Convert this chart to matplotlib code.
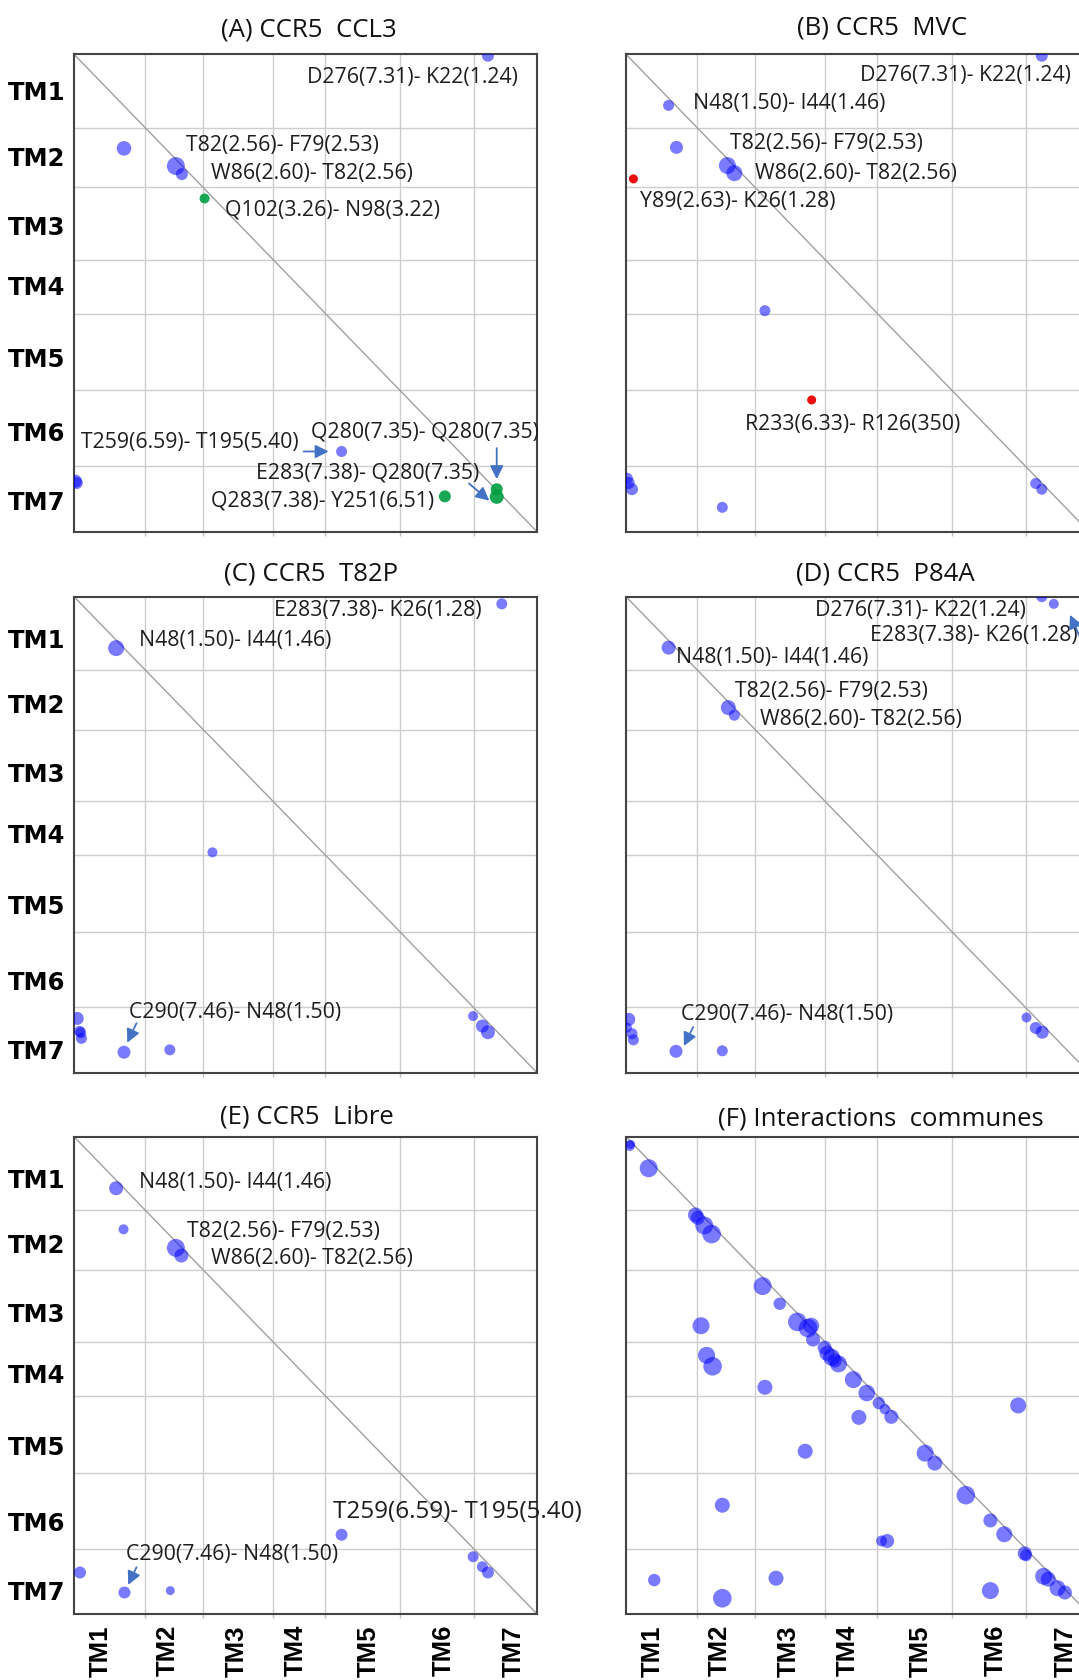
import matplotlib
matplotlib.use("Agg")
import matplotlib.pyplot as plt

plt.rcParams['font.family'] = ['Open Sans', 'DejaVu Sans']

# contact maps are drawn on a 0-100 scale along the receptor sequence
TM_NAMES = ['TM1', 'TM2', 'TM3', 'TM4', 'TM5', 'TM6', 'TM7']
TM_BOUNDS = [15.4, 27.9, 43.0, 54.3, 70.4, 86.3]
TM_CENTRES_X = [5.8, 20.2, 35.2, 47.9, 63.6, 79.9, 94.9]
TM_CENTRES_Y_TOP = [7.5, 21.4, 35.9, 48.5, 63.6, 79.1, 93.5]
TM_CENTRES_Y = [8.8, 22.4, 36.9, 49.7, 64.6, 80.6, 95.1]

# (A) CCR5 CCL3
a_x = [89.4, 10.8, 22.0, 23.3, 28.2, 57.8, 0.3, 0.6, 80.1, 91.3, 91.3]
a_y = [0.3, 19.7, 23.4, 25.1, 30.2, 83.2, 89.4, 89.8, 92.6, 91.1, 92.7]
a_r = [6, 7.3, 9, 6, 5, 5.5, 6.5, 6, 6, 6, 7]
a_kind = ['b', 'b', 'b', 'b', 'g', 'b', 'b', 'b', 'g', 'g', 'g']
a_notes = ["D276(7.31)- K22(1.24)", "T82(2.56)- F79(2.53)", "W86(2.60)- T82(2.56)",
           "Q102(3.26)- N98(3.22)", "T259(6.59)- T195(5.40)", "Q280(7.35)- Q280(7.35)",
           "E283(7.38)- Q280(7.35)", "Q283(7.38)- Y251(6.51)"]
a_note_x = [50.4, 24.1, 29.5, 32.7, 1.6, 51.1, 39.4, 29.5]
a_note_y = [4.9, 19.1, 25.0, 32.6, 81.4, 79.1, 87.8, 93.5]
a_arrows = [(49.6, 83.2, 55.0, 83.2), (91.3, 82.5, 91.3, 89.0), (85.3, 89.9, 89.7, 93.5)]

# (B) CCR5 MVC
b_x = [89.8, 9.2, 10.9, 21.9, 23.4, 1.6, 30.0, 40.1, 0.2, 0.6, 1.3, 20.8, 88.5, 89.8]
b_y = [0.3, 10.7, 19.5, 23.3, 24.9, 26.1, 53.7, 72.4, 88.9, 89.8, 91.1, 94.9, 89.9, 91.1]
b_r = [6, 5.5, 6.5, 8.5, 8, 4.5, 5.5, 4.5, 6, 6, 6, 5.5, 5.5, 5.5]
b_kind = ['b', 'b', 'b', 'b', 'b', 'r', 'b', 'r', 'b', 'b', 'b', 'b', 'b', 'b']
b_notes = ["D276(7.31)- K22(1.24)", "N48(1.50)- I44(1.46)", "T82(2.56)- F79(2.53)",
           "W86(2.60)- T82(2.56)", "Y89(2.63)- K26(1.28)", "R233(6.33)- R126(350)"]
b_note_x = [50.6, 14.5, 22.5, 27.9, 3.0, 25.8]
b_note_y = [4.5, 10.3, 18.7, 24.9, 30.8, 77.6]
b_arrows = []

# (C) CCR5 T82P
c_x = [92.4, 9.1, 29.9, 0.7, 1.2, 1.45, 1.6, 10.8, 20.7, 86.2, 88.2, 89.4]
c_y = [1.5, 10.8, 53.7, 88.6, 91.3, 91.6, 92.8, 95.7, 95.2, 88.1, 90.2, 91.5]
c_r = [5.5, 8, 5, 6.5, 5.5, 5.5, 5.5, 6.5, 5.5, 5, 6.5, 7]
c_kind = ['b'] * 12
c_notes = ["E283(7.38)- K26(1.28)", "N48(1.50)- I44(1.46)", "C290(7.46)- N48(1.50)"]
c_note_x = [43.2, 14.1, 11.8]
c_note_y = [2.9, 9.2, 87.3]
c_arrows = [(13.5, 89.6, 11.5, 93.7)]

# (D) CCR5 P84A
d_x = [89.8, 92.4, 9.2, 22.1, 23.4, 0.6, 0.2, 1.3, 1.6, 10.8, 20.8, 86.5, 88.5, 89.9]
d_y = [0.0, 1.5, 10.7, 23.3, 24.9, 88.8, 90.5, 91.8, 93.1, 95.5, 95.4, 88.4, 90.6, 91.5]
d_r = [5.5, 5, 7, 7.5, 5.5, 6.5, 5, 5.5, 5.5, 6.5, 5.5, 5, 6, 6.5]
d_kind = ['b'] * 14
d_notes = ["D276(7.31)- K22(1.24)", "E283(7.38)- K26(1.28)", "N48(1.50)- I44(1.46)",
           "T82(2.56)- F79(2.53)", "W86(2.60)- T82(2.56)", "C290(7.46)- N48(1.50)"]
d_note_x = [40.9, 52.6, 10.8, 23.6, 29.0, 11.9]
d_note_y = [2.9, 8.1, 12.7, 19.9, 25.7, 87.8]
d_arrows = [(98.5, 9.5, 95.9, 3.8), (14.5, 90.4, 12.5, 94.4)]

# (E) CCR5 Libre
e_x = [9.1, 10.7, 22.0, 23.2, 57.8, 1.3, 10.9, 20.8, 86.2, 88.2, 89.4]
e_y = [10.8, 19.4, 23.3, 24.9, 83.4, 91.3, 95.5, 95.1, 88.0, 90.1, 91.3]
e_r = [7, 5, 9, 7, 6, 6, 6, 4.5, 5.5, 5.5, 6]
e_kind = ['b'] * 11
e_notes = ["N48(1.50)- I44(1.46)", "T82(2.56)- F79(2.53)", "W86(2.60)- T82(2.56)",
           "T259(6.59)- T195(5.40)", "C290(7.46)- N48(1.50)"]
e_note_x = [14.1, 24.3, 29.5, 56.0, 11.3]
e_note_y = [9.5, 19.9, 25.5, 78.7, 87.6]
e_arrows = [(13.5, 90.2, 11.7, 93.9)]

# (F) interactions shared by all systems
f_x = [0.8, 1.0, 4.9, 15.0, 15.5, 16.9, 18.5, 29.5, 33.2, 37.0, 39.3, 40.0, 40.4,
       42.9, 43.4, 44.4, 45.1, 45.9, 49.1, 52.0, 54.6, 55.9, 57.3, 64.6, 66.7,
       73.4, 78.7, 81.7, 86.1, 86.4, 90.2, 91.2, 93.2, 94.8,
       16.2, 17.4, 18.7, 30.0, 50.3, 84.7, 38.7, 20.8, 55.2, 56.4, 6.1, 32.4,
       20.8, 78.7]
f_y = [1.9, 1.6, 6.6, 16.4, 17.0, 18.6, 20.4, 31.3, 35.0, 38.8, 40.1, 39.6, 42.5,
       44.2, 45.4, 46.2, 46.9, 47.6, 50.9, 53.7, 55.8, 57.1, 58.7, 66.3, 68.4,
       75.1, 80.4, 83.3, 87.3, 87.7, 92.1, 92.7, 94.6, 95.5,
       39.6, 45.8, 48.1, 52.5, 58.8, 56.3, 65.9, 77.2, 84.7, 84.7, 92.9, 92.5,
       96.7, 95.1]
f_r = [5.2, 4.5, 9, 7.5, 7, 9, 9.3, 9, 6.2, 9.3, 9.3, 8, 7,
       7, 7.5, 8.5, 7, 8.5, 8.5, 8.3, 6.2, 5.2, 7, 8.5, 7.5,
       9.3, 7, 8, 7, 6, 8.5, 7.5, 8, 7,
       8.5, 8.5, 9.3, 7.5, 7.5, 8, 7.5, 7.5, 5.5, 7, 6.2, 7.5,
       9.3, 8.5]
f_kind = ['b'] * len(f_x)

COLOURS = {'b': (0.0, 0.0, 1.0, 0.52), 'g': (0.0, 0.62, 0.25, 0.9), 'r': (0.92, 0.0, 0.0, 0.95)}

panels = [
    ("(A) CCR5  CCL3", a_x, a_y, a_r, a_kind, a_notes, a_note_x, a_note_y, a_arrows),
    ("(B) CCR5  MVC", b_x, b_y, b_r, b_kind, b_notes, b_note_x, b_note_y, b_arrows),
    ("(C) CCR5  T82P", c_x, c_y, c_r, c_kind, c_notes, c_note_x, c_note_y, c_arrows),
    ("(D) CCR5  P84A", d_x, d_y, d_r, d_kind, d_notes, d_note_x, d_note_y, d_arrows),
    ("(E) CCR5  Libre", e_x, e_y, e_r, e_kind, e_notes, e_note_x, e_note_y, e_arrows),
    ("(F) Interactions  communes", f_x, f_y, f_r, f_kind, [], [], [], []),
]

W, H = 1079, 1680
fig = plt.figure(figsize=(W / 100, H / 100), dpi=100)

col_left = [74, 626]
box_w = 463
rows = [(54.3, 531.7), (596.7, 1072.7), (1136.7, 1614.0)]
title_pos = [(0.508, 1.038), (0.553, 1.042), (0.512, 1.034),
             (0.560, 1.035), (0.503, 1.027), (0.551, 1.024)]


def draw_panel(ax, idx, title, xs, ys, rs, kinds, notes, nx, ny, arrows):
    ax.set_xlim(0, 100)
    ax.set_ylim(100, 0)
    for b in TM_BOUNDS:
        ax.axvline(b, color='#cdcdcd', lw=1.0, zorder=0)
        ax.axhline(b, color='#cdcdcd', lw=1.0, zorder=0)
    ax.plot([0, 100], [0, 100], color='#a0a0a0', lw=1.0, zorder=1)

    sizes = [(2 * r * 0.72) ** 2 for r in rs]
    cols = [COLOURS[k] for k in kinds]
    ax.scatter(xs, ys, s=sizes, c=cols, linewidths=0, zorder=3)

    for txt, x, y in zip(notes, nx, ny):
        fs = 17.5 if (idx == 4 and txt.startswith('T259')) else 15.3
        ax.text(x, y, txt, fontsize=fs, color='#1e1e1e', ha='left', va='center', zorder=4)
    for x0, y0, x1, y1 in arrows:
        ax.annotate('', xy=(x1, y1), xytext=(x0, y0), annotation_clip=False,
                    arrowprops=dict(arrowstyle='-|>', color='#4472c4', lw=1.3,
                                    mutation_scale=20, shrinkA=0, shrinkB=0), zorder=5)

    tx, ty = title_pos[idx]
    ax.text(tx, ty, title, transform=ax.transAxes, ha='center', va='baseline',
            fontsize=18.5, color='#111111')

    # tick labels only on the outer edges
    ax.set_xticks(TM_CENTRES_X)
    ax.set_xticks(TM_BOUNDS, minor=True)
    ax.set_yticks(TM_CENTRES_Y_TOP if idx < 2 else TM_CENTRES_Y)
    ax.tick_params(which='major', length=0)
    ax.tick_params(axis='x', which='minor', length=3, color='#c0c0c0', width=1)
    ax.tick_params(axis='y', which='minor', length=0)
    if idx >= 4:
        ax.set_xticklabels(TM_NAMES, rotation=90, fontfamily='Liberation Sans',
                           fontweight='bold', fontsize=18.5)
        ax.tick_params(axis='x', which='major', pad=8)
    else:
        ax.set_xticklabels([])
    if idx % 2 == 0:
        ax.set_yticklabels(TM_NAMES, fontfamily='DejaVu Sans', fontweight='bold', fontsize=17.5)
        ax.tick_params(axis='y', which='major', pad=6.5)
    else:
        ax.set_yticklabels([])

    for sp in ax.spines.values():
        sp.set_color('#444444')
        sp.set_linewidth(1.5)


for i, p in enumerate(panels):
    top, bottom = rows[i // 2]
    left = col_left[i % 2]
    ax = fig.add_axes([left / W, 1 - bottom / H, box_w / W, (bottom - top) / H])
    draw_panel(ax, i, *p)

fig.savefig('out.png', dpi=100)
